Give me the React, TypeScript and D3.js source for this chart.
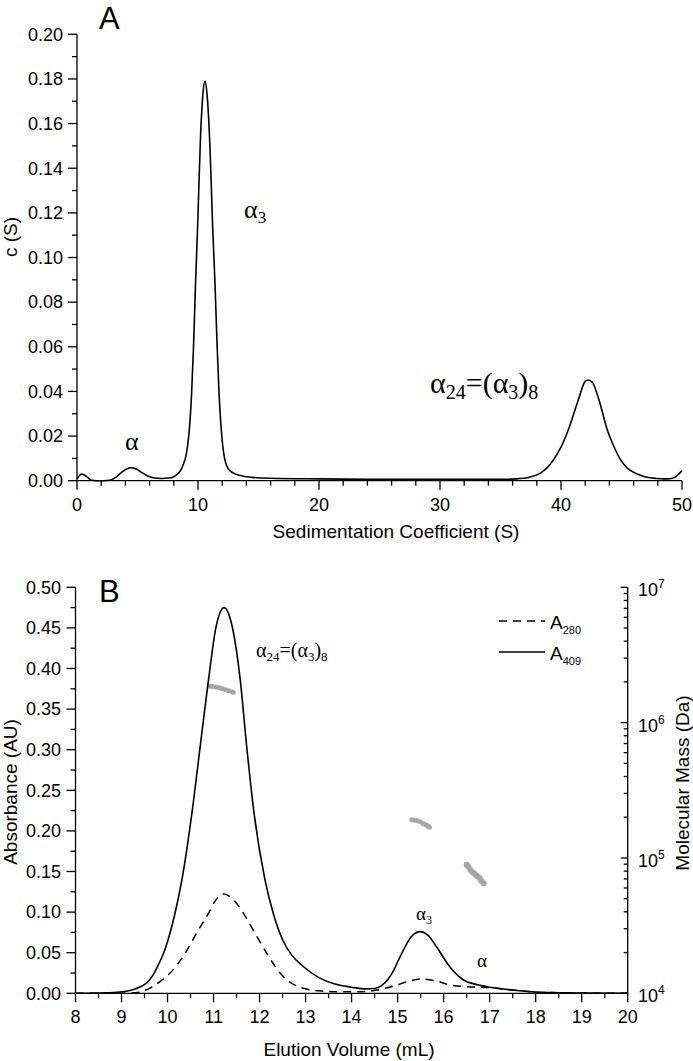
import React from 'react';
import * as d3 from 'd3';

// Panel A: sedimentation coefficient distribution c(S)
const sedCurve: [number, number][] = [
  [0, 0.0008], [0.4, 0.003], [0.8, 0.0018], [1.2, 0.0002], [1.6, 0], [2.2, 0], [2.7, 0.0002],
  [3.2, 0.0015], [3.7, 0.0038], [4.1, 0.0052], [4.46, 0.0058], [4.9, 0.0052], [5.4, 0.0035],
  [5.9, 0.002], [6.3, 0.0013], [7.0, 0.001], [7.6, 0.0012], [8.0, 0.0018], [8.35, 0.0032],
  [8.6, 0.005], [8.8, 0.0075], [9.0, 0.011], [9.15, 0.016], [9.3, 0.024], [9.47, 0.039],
  [9.63, 0.06], [9.8, 0.089], [9.97, 0.114], [10.2, 0.153], [10.4, 0.173], [10.58, 0.179],
  [10.75, 0.173], [11.0, 0.148], [11.21, 0.114], [11.4, 0.089], [11.57, 0.062], [11.74, 0.039],
  [11.88, 0.026], [12.0, 0.018], [12.12, 0.0125], [12.25, 0.0088], [12.4, 0.0063], [12.6, 0.0047],
  [12.9, 0.0035], [13.5, 0.0023], [14.5, 0.0015], [16, 0.0011], [20, 0.0008], [25, 0.0006],
  [30, 0.0006], [35, 0.0006], [36.3, 0.0008], [37.3, 0.0014], [38.26, 0.0033], [38.8, 0.0055],
  [39.37, 0.0093], [40.0, 0.015], [40.6, 0.0227], [41.43, 0.0362], [42.0, 0.0445], [42.25, 0.0451],
  [42.6, 0.044], [43.14, 0.0362], [43.83, 0.0227], [44.4, 0.015], [44.93, 0.0093], [45.5, 0.0055],
  [46.26, 0.0031], [47.0, 0.0017], [47.9, 0.001], [48.5, 0.0008], [49.0, 0.0009], [49.4, 0.0015],
  [49.7, 0.0028], [50, 0.0045],
];

// Panel B: elution profiles
const a409Curve: [number, number][] = [
  [8, 0], [8.5, 0.0003], [8.9, 0.0012], [9.1, 0.0025], [9.25, 0.0045], [9.4, 0.0078], [9.55, 0.013],
  [9.68, 0.022], [9.8, 0.035], [9.95, 0.055], [10.16, 0.098], [10.31, 0.139], [10.53, 0.222],
  [10.71, 0.304], [10.89, 0.386], [11.05, 0.45], [11.23, 0.475], [11.4, 0.453], [11.58, 0.386],
  [11.72, 0.304], [11.88, 0.222], [12.12, 0.139], [12.3, 0.098], [12.5, 0.066], [12.7, 0.047],
  [12.95, 0.033], [13.3, 0.019], [13.6, 0.012], [14.0, 0.0075], [14.3, 0.0055], [14.5, 0.006],
  [14.65, 0.0095], [14.8, 0.018], [14.92, 0.029], [15.02, 0.041], [15.16, 0.057], [15.3, 0.07],
  [15.49, 0.076], [15.65, 0.072], [15.85, 0.057], [16.03, 0.041], [16.2, 0.028], [16.43, 0.0164],
  [16.7, 0.011], [17.0, 0.0075], [17.5, 0.004], [18.0, 0.0015], [18.5, 0.0007], [19, 0.0003], [20, 0],
];

const a280Curve: [number, number][] = [
  [8, 0], [9, 0], [9.4, 0.0015], [9.62, 0.0065], [9.85, 0.015], [10.05, 0.0246], [10.38, 0.049],
  [10.63, 0.074], [10.89, 0.0985], [11.05, 0.115], [11.23, 0.1223], [11.4, 0.117], [11.65, 0.0985],
  [11.9, 0.074], [12.16, 0.049], [12.45, 0.0246], [12.65, 0.014], [12.88, 0.0075], [13.3, 0.003],
  [13.7, 0.002], [14.2, 0.002], [14.55, 0.004], [14.98, 0.0102], [15.25, 0.015], [15.53, 0.0176],
  [15.85, 0.015], [16.14, 0.0102], [16.5, 0.0082], [17.0, 0.007], [17.5, 0.004], [18.0, 0.0015],
  [18.5, 0.0007], [19, 0.0003], [20, 0],
];

// Molecular mass (MALS) points, Da
const massSeg1: [number, number][] = [
  [10.92, 1.86e6], [10.98, 1.85e6], [11.05, 1.83e6], [11.12, 1.81e6], [11.19, 1.78e6],
  [11.26, 1.75e6], [11.33, 1.72e6], [11.4, 1.69e6], [11.43, 1.68e6],
];
const massSeg2: [number, number][] = [
  [15.31, 1.92e5], [15.37, 1.9e5], [15.43, 1.88e5], [15.49, 1.85e5], [15.55, 1.8e5],
  [15.61, 1.76e5], [15.66, 1.72e5], [15.69, 1.69e5],
];
const massSeg3: [number, number][] = [
  [16.5, 8.9e4], [16.54, 8.6e4], [16.58, 8.2e4], [16.62, 7.9e4], [16.66, 7.7e4],
  [16.7, 7.5e4], [16.74, 7.3e4], [16.78, 7.1e4], [16.82, 6.8e4], [16.87, 6.5e4],
];

const aTicksX = [0, 10, 20, 30, 40, 50];
const aMinorX = [2, 4, 6, 8, 12, 14, 16, 18, 22, 24, 26, 28, 32, 34, 36, 38, 42, 44, 46, 48];
const aTicksY = [0, 0.02, 0.04, 0.06, 0.08, 0.1, 0.12, 0.14, 0.16, 0.18, 0.2];
const aMinorY = [0.01, 0.03, 0.05, 0.07, 0.09, 0.11, 0.13, 0.15, 0.17, 0.19];
const bTicksX = [8, 9, 10, 11, 12, 13, 14, 15, 16, 17, 18, 19, 20];
const bTicksY = [0, 0.05, 0.1, 0.15, 0.2, 0.25, 0.3, 0.35, 0.4, 0.45, 0.5];
const massMajor = [1e4, 1e5, 1e6, 1e7];
const massExp = ['4', '5', '6', '7'];

const SANS = "'Liberation Sans', Arial, sans-serif";
const SERIF = "'Liberation Serif', 'Times New Roman', serif";

export default function App() {
  const xA = d3.scaleLinear().domain([0, 50]).range([77, 682]);
  const yA = d3.scaleLinear().domain([0, 0.2]).range([480.7, 34.3]);
  const xB = d3.scaleLinear().domain([8, 20]).range([75.5, 627.7]);
  const yB = d3.scaleLinear().domain([0, 0.5]).range([993.3, 587.3]);
  const yM = d3.scaleLog().domain([1e4, 1e7]).range([993.3, 587.3]);

  const lineA = d3.line<[number, number]>().x(d => xA(d[0])).y(d => yA(d[1])).curve(d3.curveMonotoneX);
  const lineB = d3.line<[number, number]>().x(d => xB(d[0])).y(d => yB(d[1])).curve(d3.curveMonotoneX);

  const bMinorX = d3.range(8.5, 20, 1);
  const bMinorY = d3.range(0.025, 0.5, 0.05);
  const massMinor: number[] = [];
  for (let e = 4; e < 7; e++) for (let k = 2; k <= 9; k++) massMinor.push(k * Math.pow(10, e));

  const ax = { stroke: '#000', strokeWidth: 1.3 };

  return (
    <svg width={693} height={1061} style={{ position: 'absolute', left: 0, top: 0, background: '#fff' }}
      fontFamily={SANS}>
      <rect x={0} y={0} width={693} height={1061} fill="#fff" />
      {/* ---------- Panel A ---------- */}
      <text x={99} y={28.5} fontSize={31}>A</text>
      <line x1={xA(0)} x2={xA(0)} y1={yA(0) + 0.6} y2={yA(0.2)} {...ax} />
      <line x1={xA(0)} x2={xA(50)} y1={yA(0)} y2={yA(0)} {...ax} />
      {aTicksY.map(t => (
        <g key={'ay' + t}>
          <line x1={xA(0) - 9} x2={xA(0)} y1={yA(t)} y2={yA(t)} {...ax} />
          <text x={63} y={yA(t)} dy="0.35em" textAnchor="end" fontSize={18}>{t.toFixed(2)}</text>
        </g>
      ))}
      {aMinorY.map(t => (
        <line key={'amy' + t} x1={xA(0) - 5} x2={xA(0)} y1={yA(t)} y2={yA(t)} {...ax} />
      ))}
      {aTicksX.map(t => (
        <g key={'ax' + t}>
          <line x1={xA(t)} x2={xA(t)} y1={yA(0)} y2={yA(0) + 9} {...ax} />
          <text x={xA(t)} y={511} textAnchor="middle" fontSize={18}>{t}</text>
        </g>
      ))}
      {aMinorX.map(t => (
        <line key={'amx' + t} x1={xA(t)} x2={xA(t)} y1={yA(0)} y2={yA(0) + 5} {...ax} />
      ))}
      <text x={396} y={538} textAnchor="middle" fontSize={19}>Sedimentation Coefficient (S)</text>
      <text transform={`translate(17,237) rotate(-90)`} textAnchor="middle" fontSize={19}>c (S)</text>
      <path d={lineA(sedCurve) || ''} fill="none" stroke="#000" strokeWidth={1.6} />
      <text x={125} y={450} fontFamily={SERIF} fontSize={26}>α</text>
      <text x={244} y={218} fontFamily={SERIF} fontSize={26}>α<tspan fontSize={17} dy={5}>3</tspan></text>
      <text x={430} y={393} fontFamily={SERIF} fontSize={30}>
        α<tspan fontSize={20} dy={6}>24</tspan><tspan dy={-6}>=(α</tspan><tspan fontSize={20} dy={6}>3</tspan><tspan dy={-6}>)</tspan><tspan fontSize={20} dy={6}>8</tspan>
      </text>

      {/* ---------- Panel B ---------- */}
      <text x={99} y={602} fontSize={31}>B</text>
      <line x1={xB(8)} x2={xB(8)} y1={yB(0) + 0.6} y2={yB(0.5)} {...ax} />
      <line x1={xB(8)} x2={xB(20)} y1={yB(0)} y2={yB(0)} {...ax} />
      <line x1={xB(20)} x2={xB(20)} y1={yM(1e4) + 0.6} y2={yM(1e7)} {...ax} />
      {bTicksY.map(t => (
        <g key={'by' + t}>
          <line x1={xB(8) - 9} x2={xB(8)} y1={yB(t)} y2={yB(t)} {...ax} />
          <text x={61} y={yB(t)} dy="0.35em" textAnchor="end" fontSize={18}>{t.toFixed(2)}</text>
        </g>
      ))}
      {bMinorY.map(t => (
        <line key={'bmy' + t} x1={xB(8) - 5} x2={xB(8)} y1={yB(t)} y2={yB(t)} {...ax} />
      ))}
      {bTicksX.map(t => (
        <g key={'bx' + t}>
          <line x1={xB(t)} x2={xB(t)} y1={yB(0)} y2={yB(0) + 9} {...ax} />
          <text x={xB(t)} y={1023} textAnchor="middle" fontSize={18}>{t}</text>
        </g>
      ))}
      {bMinorX.map(t => (
        <line key={'bmx' + t} x1={xB(t)} x2={xB(t)} y1={yB(0)} y2={yB(0) + 5} {...ax} />
      ))}
      {massMajor.map((t, i) => (
        <g key={'m' + t}>
          <line x1={xB(20) - 7} x2={xB(20)} y1={yM(t)} y2={yM(t)} {...ax} />
          <text x={638} y={yM(t) + 9} fontSize={18}>10<tspan fontSize={12} dy={-8}>{massExp[i]}</tspan></text>
        </g>
      ))}
      {massMinor.map(t => (
        <line key={'mm' + t} x1={xB(20) - 4} x2={xB(20)} y1={yM(t)} y2={yM(t)} {...ax} />
      ))}
      <text x={349} y={1056} textAnchor="middle" fontSize={19}>Elution Volume (mL)</text>
      <text transform={`translate(17,792) rotate(-90)`} textAnchor="middle" fontSize={19}>Absorbance (AU)</text>
      <text transform={`translate(689,783) rotate(-90)`} textAnchor="middle" fontSize={19}>Molecular Mass (Da)</text>

      {[massSeg1, massSeg2, massSeg3].map((seg, si) => (
        <g key={'seg' + si} fill="#a6a6a6">
          {seg.map((d, i) => (
            <circle key={i} cx={xB(d[0])} cy={yM(d[1])} r={si === 2 ? 3 : 2.5} />
          ))}
        </g>
      ))}
      <path d={lineB(a280Curve) || ''} fill="none" stroke="#000" strokeWidth={1.5} strokeDasharray="8,6" />
      <path d={lineB(a409Curve) || ''} fill="none" stroke="#000" strokeWidth={1.6} />

      {/* legend */}
      <line x1={499} x2={545} y1={621} y2={621} stroke="#000" strokeWidth={1.5} strokeDasharray="8,6" />
      <text x={550} y={629} fontSize={19}>A<tspan fontSize={11} dy={5}>280</tspan></text>
      <line x1={499} x2={545} y1={652} y2={652} stroke="#000" strokeWidth={1.5} />
      <text x={550} y={660} fontSize={19}>A<tspan fontSize={11} dy={5}>409</tspan></text>

      <text x={256} y={657} fontFamily={SERIF} fontSize={20}>
        α<tspan fontSize={13} dy={4}>24</tspan><tspan dy={-4}>=(α</tspan><tspan fontSize={13} dy={4}>3</tspan><tspan dy={-4}>)</tspan><tspan fontSize={13} dy={4}>8</tspan>
      </text>
      <text x={416} y={920} fontFamily={SERIF} fontSize={19}>α<tspan fontSize={12} dy={4}>3</tspan></text>
      <text x={477} y={967} fontFamily={SERIF} fontSize={19}>α</text>
    </svg>
  );
}
